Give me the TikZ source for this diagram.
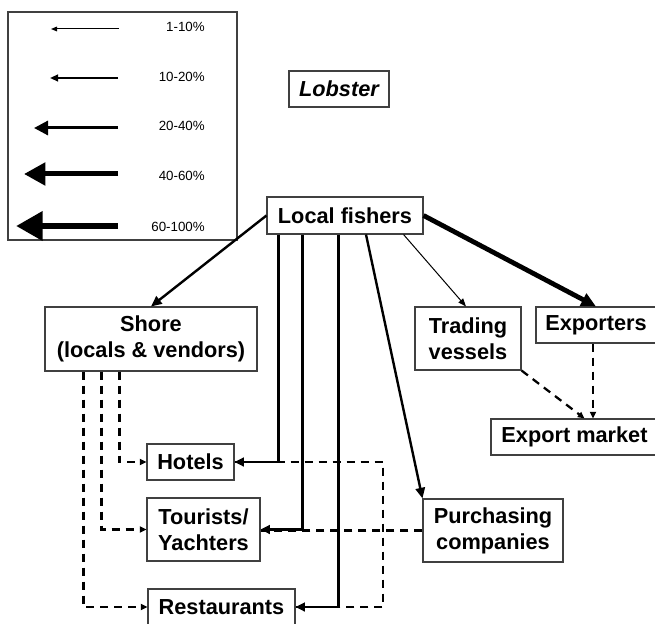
\documentclass[tikz,border=0pt]{standalone}
\usepackage{fontspec}
\setmainfont{Liberation Sans}
\usetikzlibrary{arrows.meta,calc}
\begin{document}
\begin{tikzpicture}[x=0.75pt,y=-0.75pt,
  box/.style={draw=black!75,line width=0.8pt,rectangle,inner sep=0pt,align=center,
    font=\fontsize{16.3}{19.5}\selectfont\bfseries},
  leglab/.style={anchor=east,inner sep=0pt,font=\fontsize{10}{12}\selectfont},
  wA/.style={line width=0.75pt,-{Triangle[length=4.5pt,width=3.5pt]}},
  wB/.style={line width=1.4pt,-{Triangle[length=6pt,width=5pt]}},
  wC/.style={line width=2.25pt,-{Triangle[length=10.5pt,width=10.5pt]}},
  wD/.style={line width=3.75pt,-{Triangle[length=16pt,width=16.5pt]}},
  wE/.style={line width=5pt,-{Triangle[length=20pt,width=21pt]}},
  flowA/.style={line width=0.75pt,-{Triangle[length=6pt,width=4.5pt]}},
  flowC/.style={line width=1.8pt,-{Triangle[length=8pt,width=7pt]}},
  flowV/.style={line width=2.2pt,-{Triangle[length=7pt,width=6.5pt]}},
  flowD/.style={line width=3.6pt,-{Triangle[length=11pt,width=10pt]}},
  dsh/.style={line width=1.7pt,dash pattern=on 6pt off 4.5pt},
  dsha/.style={dsh,-{Triangle[length=5pt,width=4.5pt]}}
]
\useasboundingbox (0,0) rectangle (655,623);
% legend
\node[draw=black!75,line width=0.8pt,minimum width=171.75pt,minimum height=171pt,inner sep=0pt] (legend) at (122.5,126) {};
\coordinate (l1s) at (119,29);  \coordinate (l1e) at (51,29);
\coordinate (l2s) at (118,78);  \coordinate (l2e) at (50,78);
\coordinate (l3s) at (118,128); \coordinate (l3e) at (34,128);
\coordinate (l4s) at (118,174); \coordinate (l4e) at (24,174);
\coordinate (l5s) at (118,226); \coordinate (l5e) at (16,226);
\draw[wA] (l1s) -- (l1e);
\draw[wB] (l2s) -- (l2e);
\draw[wC] (l3s) -- (l3e);
\draw[wD] (l4s) -- (l4e);
\draw[wE] (l5s) -- (l5e);
\node[leglab] (t1) at (205,27) {1-10\%};
\node[leglab] (t2) at (205,77) {10-20\%};
\node[leglab] (t3) at (205,126) {20-40\%};
\node[leglab] (t4) at (205,176) {40-60\%};
\node[leglab] (t5) at (205,227) {60-100\%};
% nodes
\node[box,minimum width=75pt,minimum height=27pt,font=\fontsize{16.3}{19.5}\selectfont\bfseries\itshape] (lobster) at (339,89) {Lobster};
\node[box,minimum width=117pt,minimum height=27.75pt] (fishers) at (345,215.5) {Local fishers};
\node[box,minimum width=159pt,minimum height=48pt] (shore) at (151,339) {Shore\\(locals \& vendors)};
\node[box,minimum width=79.5pt,minimum height=47.25pt] (trading) at (468,338.5) {Trading\\vessels};
\node[box,minimum width=90pt,minimum height=27pt] (exporters) at (596,325) {Exporters};
\node[box,minimum width=125.25pt,minimum height=27pt] (exportm) at (574.5,437) {Export market};
\node[box,minimum width=65.25pt,minimum height=27pt] (hotels) at (190.5,462) {Hotels};
\node[box,minimum width=84.75pt,minimum height=47.25pt] (tourists) at (203.5,529.5) {Tourists/\\Yachters};
\node[box,minimum width=110.25pt,minimum height=27pt] (rest) at (221.5,607) {Restaurants};
\node[box,minimum width=105pt,minimum height=47.25pt] (purch) at (493,530.5) {Purchasing\\companies};
\coordinate (pc) at (383,530);
% dashed flows
\draw[dsh] (purch.west) -- (purch.west -| tourists.east);
\draw[dsh] (hotels.east) -| (pc) |- (rest.east);
\draw[dsha] ($(shore.south west)+(75,0)$) |- (hotels.west);
\draw[dsha] ($(shore.south west)+(57,0)$) |- (tourists.west);
\draw[dsha] ($(shore.south west)+(39,0)$) |- (rest.west);
\draw[dsha] (trading.south east) -- ($(exportm.north)+(10,0)$);
\draw[dsha] ($(exporters.south)+(-3,0)$) -- ($(exportm.north)+(18.5,0)$);
% solid flows
\draw[flowC] (fishers.west) -- (shore.north);
\draw[flowD] (fishers.east) -- (exporters.north);
\draw[flowA] ($(fishers.south east)+(-20,0)$) -- ($(trading.north)+(-2,0)$);
\draw[flowC] ($(fishers.south)+(21,0)$) -- (purch.north west);
\draw[flowV] ($(fishers.south west)+(12,0)$) |- (hotels.east);
\draw[flowV] ($(fishers.south west)+(36,0)$) |- (tourists.east);
\draw[flowV] ($(fishers.south west)+(72,0)$) |- (rest.east);
\end{tikzpicture}
\end{document}
